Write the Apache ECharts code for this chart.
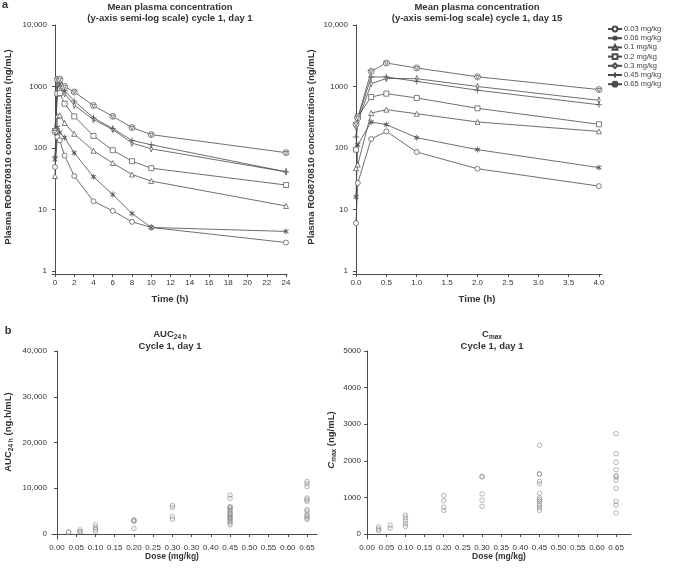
<!DOCTYPE html>
<html><head><meta charset="utf-8">
<script src="https://cdn.jsdelivr.net/npm/echarts@6/dist/echarts.min.js"></script>
<style>html,body{margin:0;padding:0;background:#fff}#c{width:673px;height:569px}</style>
</head><body><div id="c"></div>
<script>
// ---------- data ----------
var doseNames = ['0.03 mg/kg','0.06 mg/kg','0.1 mg/kg','0.2 mg/kg','0.3 mg/kg','0.45 mg/kg','0.65 mg/kg'];

var day1Times = [0, 0.25, 0.5, 1, 2, 4, 6, 8, 10, 24];
var day1_003 = [49, 150, 133, 75, 35, 13.6, 9.5, 6.3, 5.1, 2.9];
var day1_006 = [65, 215, 178, 148, 83, 34, 17.5, 8.6, 5.1, 4.4];
var day1_01  = [35, 330, 340, 255, 170, 90, 57, 37, 29, 11.4];
var day1_02  = [190, 765, 780, 525, 327, 157, 92, 61, 47, 25];
var day1_03  = [180, 1050, 1000, 770, 495, 290, 200, 120, 97, 41];
var day1_045 = [72, 1000, 1140, 860, 580, 310, 207, 133, 113, 41];
var day1_065 = [185, 1310, 1310, 1000, 815, 490, 327, 215, 165, 84];

var day15Times = [0, 0.03, 0.25, 0.5, 1, 2, 4];
var day15_003 = [6, 27, 140, 186, 86, 46, 24];
var day15_006 = [16, 113, 265, 240, 147, 94, 48];
var day15_01  = [47, 54, 370, 420, 360, 265, 186];
var day15_02  = [94, 325, 675, 765, 650, 442, 243];
var day15_03  = [218, 265, 1110, 1350, 1340, 1000, 596];
var day15_045 = [151, 300, 1430, 1430, 1210, 870, 505];
var day15_065 = [243, 310, 1765, 2410, 2000, 1440, 890];

var scatterDoses = [0.03, 0.06, 0.10, 0.20, 0.30, 0.45, 0.65];
var aucValues = [
  [350, 450],
  [900, 500, 400],
  [2000, 1400, 1000, 600],
  [3100, 2900, 2800, 1200],
  [6260, 5820, 3860, 3270],
  [8500, 7800, 6000, 5800, 5500, 5200, 4800, 4500, 4200, 3900, 3600, 3400, 3100, 2800, 2400, 2000],
  [11500, 11000, 10400, 7860, 7500, 7130, 5300, 4950, 4200, 3860, 3500, 3200]
];
var cmaxValues = [
  [190, 130, 90],
  [240, 160],
  [510, 440, 360, 280, 210],
  [1056, 911, 729, 647],
  [1575, 1560, 1093, 920, 756],
  [2422, 1648, 1635, 1440, 1375, 1111, 983, 938, 892, 829, 774, 710, 647],
  [2741, 2195, 1958, 1758, 1594, 1557, 1466, 1248, 892, 792, 574]
];

var logTicks = [1, 10, 100, 1000, 10000];
var logTickLabels = ['1', '10', '100', '1000', '10,000'];
var day1TimeTicks = [0, 2, 4, 6, 8, 10, 12, 14, 16, 18, 20, 22, 24];
var day15TimeTicks = [0, 0.5, 1, 1.5, 2, 2.5, 3, 3.5, 4];
var day15TimeLabels = ['0.0','0.5','1.0','1.5','2.0','2.5','3.0','3.5','4.0'];
var doseTicks = [0, 0.05, 0.10, 0.15, 0.20, 0.25, 0.30, 0.35, 0.40, 0.45, 0.50, 0.55, 0.60, 0.65];
var aucDoseLabels = ['0.00','0.05','0.10','0.15','0.20','0.25','0.30','0.30','0.40','0.45','0.50','0.55','0.60','0.65'];
var cmaxDoseLabels = ['0.00','0.05','0.10','0.15','0.20','0.25','0.30','0.35','0.40','0.45','0.50','0.55','0.60','0.65'];
var aucTicks = [0, 10000, 20000, 30000, 40000];
var aucTickLabels = ['0', '10,000', '20,000', '30,000', '40,000'];
var cmaxTicks = [0, 1000, 2000, 3000, 4000, 5000];
var cmaxTickLabels = ['0', '1000', '2000', '3000', '4000', '5000'];

// ---------- styles ----------
var LINE = '#4a4a4a', TXT = '#333', FONT = 'Liberation Sans, Arial, sans-serif';
var symbols = [
  {s: 'circle', size: 5},
  {s: 'path://M5,0L5,10M0.67,2.5L9.33,7.5M0.67,7.5L9.33,2.5M2,2L8,8M2,8L8,2', size: 6},
  {s: 'triangle', size: 5},
  {s: 'rect', size: 5},
  {s: 'path://M5,0L8,5L5,10L2,5Z', size: [4, 6.5]},
  {s: 'path://M5,0L5,10M0,5L10,5', size: 6.5},
  {s: 'path://M0,5A5,5 0 1 1 10,5A5,5 0 1 1 0,5ZM1.8,3L8.2,3L5,8.6Z', size: 6}
];
function idx(v, arr) { for (var i = 0; i < arr.length; i++) if (Math.abs(arr[i] - v) < 1e-6) return i; return -1; }
function lab(vals, labels) { return function (v) { var i = idx(v, vals); return i < 0 ? '' : labels[i]; }; }

function axisBase() {
  return {
    axisLine: {show: true, lineStyle: {color: LINE, width: 1}},
    axisTick: {show: true, length: 3, lineStyle: {color: LINE, width: 1}},
    splitLine: {show: false},
    axisLabel: {color: TXT, fontSize: 8, fontFamily: FONT}
  };
}
function mkX(gi, min, max, ticks, labels) {
  var a = axisBase();
  a.type = 'value'; a.gridIndex = gi; a.min = min; a.max = max;
  a.axisTick.customValues = ticks;
  a.axisLabel.customValues = ticks;
  a.axisLabel.formatter = lab(ticks, labels);
  a.axisLabel.margin = 5;
  return a;
}
function mkY(gi, type, min, max, ticks, labels) {
  var a = axisBase();
  a.type = type; a.gridIndex = gi; a.min = min; a.max = max;
  if (type === 'log') a.logBase = 10;
  a.axisTick.customValues = ticks;
  a.axisLabel.customValues = ticks;
  a.axisLabel.formatter = lab(ticks, labels);
  a.axisLabel.margin = 5;
  return a;
}

var day1Series = [day1_003, day1_006, day1_01, day1_02, day1_03, day1_045, day1_065];
var day15Series = [day15_003, day15_006, day15_01, day15_02, day15_03, day15_045, day15_065];

var series = [];
function lineSeries(name, times, vals, k, gi) {
  return {
    type: 'line', name: name, xAxisIndex: gi, yAxisIndex: gi,
    data: times.map(function (t, i) { return [t, vals[i]]; }),
    symbol: symbols[k].s, symbolSize: symbols[k].size, symbolKeepAspect: true,
    showAllSymbol: true, animation: false,
    lineStyle: {color: LINE, width: 0.8},
    itemStyle: {color: '#fff', borderColor: LINE, borderWidth: 0.7}
  };
}
for (var k = 0; k < 7; k++) series.push(lineSeries(doseNames[k], day1Times, day1Series[k], k, 0));
for (var k2 = 0; k2 < 7; k2++) series.push(lineSeries(doseNames[k2], day15Times, day15Series[k2], k2, 1));

function scatterData(values) {
  var out = [];
  values.forEach(function (arr, i) { arr.forEach(function (v) { out.push([scatterDoses[i], v]); }); });
  return out;
}
var scatterStyle = {color: 'rgba(0,0,0,0)', borderColor: '#7a7a7a', borderWidth: 0.7};
series.push({type: 'scatter', xAxisIndex: 2, yAxisIndex: 2, data: scatterData(aucValues), symbol: 'circle', symbolSize: 4.5, itemStyle: scatterStyle, animation: false});
series.push({type: 'scatter', xAxisIndex: 3, yAxisIndex: 3, data: scatterData(cmaxValues), symbol: 'circle', symbolSize: 4.5, itemStyle: scatterStyle, animation: false});

function txt(x, y, text, opts) {
  opts = opts || {};
  return {
    type: 'text', x: x, y: y, rotation: opts.rot || 0, silent: true,
    style: {
      text: text, fill: TXT, textAlign: opts.align || 'center', textVerticalAlign: 'middle',
      font: (opts.weight || 'bold') + ' ' + (opts.size || 9.5) + 'px ' + FONT,
      lineHeight: opts.lh || 11, rich: opts.rich
    }
  };
}
var R = Math.PI / 2;
var richB = {
  b: {fontSize: 9.5, fontWeight: 'bold', fontFamily: FONT, fill: TXT, color: TXT},
  s: {fontSize: 6.5, fontWeight: 'bold', fontFamily: FONT, fill: TXT, color: TXT, verticalAlign: 'bottom', lineHeight: 13},
  i: {fontSize: 9.5, fontWeight: 'bold', fontStyle: 'italic', fontFamily: FONT, fill: TXT, color: TXT}
};

var option = {
  backgroundColor: '#fff',
  animation: false,
  grid: [
    {left: 52, top: 25, width: 235, height: 249, outerBoundsMode: 'none'},
    {left: 353, top: 25, width: 249, height: 249, outerBoundsMode: 'none'},
    {left: 52, top: 351, width: 265, height: 188, outerBoundsMode: 'none'},
    {left: 366, top: 351, width: 265, height: 188, outerBoundsMode: 'none'}
  ],
  xAxis: [
    mkX(0, -0.31, 24.1, day1TimeTicks, day1TimeTicks.map(String)),
    mkX(1, -0.049, 4.05, day15TimeTicks, day15TimeLabels),
    mkX(2, -0.013, 0.676, doseTicks, aucDoseLabels),
    mkX(3, -0.003, 0.689, doseTicks, cmaxDoseLabels)
  ],
  yAxis: [
    mkY(0, 'log', 0.893, 10000, logTicks, logTickLabels),
    mkY(1, 'log', 0.893, 10000, logTicks, logTickLabels),
    mkY(2, 'value', -1090, 40000, aucTicks, aucTickLabels),
    mkY(3, 'value', -137, 5000, cmaxTicks, cmaxTickLabels)
  ],
  legend: {
    data: doseNames, orient: 'vertical', left: 607, top: 25, padding: 0,
    itemWidth: 14, itemHeight: 6, itemGap: 1.2,
    textStyle: {fontSize: 7.5, color: '#444', fontFamily: FONT, padding: [0, 0, 0, -3]}
  },
  graphic: [
    txt(5, 5, 'a', {size: 11}),
    txt(8, 331, 'b', {size: 11}),
    txt(170, 12.5, 'Mean plasma concentration\n(y-axis semi-log scale) cycle 1, day 1'),
    txt(477, 12.5, 'Mean plasma concentration\n(y-axis semi-log scale) cycle 1, day 15'),
    txt(8, 147, 'Plasma RO6870810 concentrations (ng/mL)', {rot: R}),
    txt(311, 147, 'Plasma RO6870810 concentrations (ng/mL)', {rot: R}),
    txt(170, 299, 'Time (h)'),
    txt(477, 299, 'Time (h)'),
    txt(170, 340, '{b|AUC}{s|24 h}\n{b|Cycle 1, day 1}', {rich: richB}),
    txt(492, 340, '{b|C}{s|max}\n{b|Cycle 1, day 1}', {rich: richB}),
    txt(8, 432, '{b|AUC}{s|24 h}{b| (ng.h/mL)}', {rot: R, rich: richB}),
    txt(331, 440, '{i|C}{s|max}{b| (ng/mL)}', {rot: R, rich: richB}),
    txt(172, 557, 'Dose (mg/kg)', {size: 8.5}),
    txt(499, 557, 'Dose (mg/kg)', {size: 8.5})
  ],
  series: series
};
var chart = echarts.init(document.getElementById('c'), null, {renderer: 'canvas'});
chart.setOption(option);
</script>
</body></html>
